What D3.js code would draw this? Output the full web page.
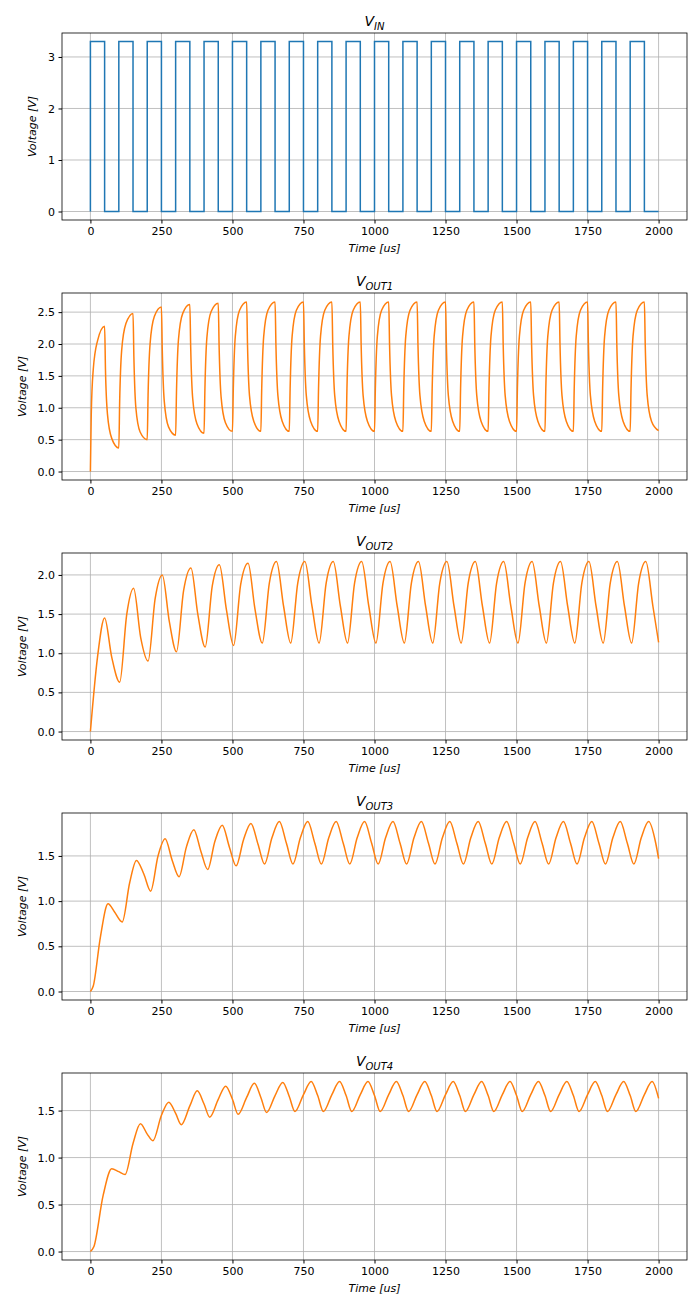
<!DOCTYPE html>
<html><head><meta charset="utf-8">
<script src="https://cdn.jsdelivr.net/npm/d3@7"></script>
<style>body{margin:0;background:#fff}text{font-family:"DejaVu Sans",sans-serif}</style>
</head><body><div id="chart"></div>
<script>
// square wave source: 50us on / 50us off, 3.3 V
var vin = {period: 100, width: 50, amp: 3.3, pulses: 20, tEnd: 2000};

// per-cycle samples: [offset in cycle, value]
// cycles past the listed ones repeat the last (steady) row
var out1 = [
  [[0,0],[3,0.9],[10,1.6],[25,2.05],[50,2.28],[53,1.6],[60,0.9],[75,0.52]],
  [[0,0.37],[3,1.1],[10,1.9],[25,2.32],[50,2.48],[53,1.8],[60,1.0],[75,0.62]],
  [[0,0.5],[3,1.2],[10,2.0],[25,2.43],[50,2.58],[53,1.9],[60,1.1],[75,0.7]],
  [[0,0.57],[3,1.25],[10,2.07],[25,2.48],[50,2.62],[53,1.95],[60,1.15],[75,0.75]],
  [[0,0.6],[3,1.28],[10,2.1],[25,2.51],[50,2.64],[53,1.97],[60,1.17],[75,0.77]],
  [[0,0.63],[3,1.3],[10,2.12],[25,2.53],[50,2.66],[53,1.99],[60,1.19],[75,0.79]]
];
var out2 = [
  [[0,0],[25,0.95],[50,1.45],[75,0.95]],
  [[3,0.63],[28,1.5],[52,1.83],[77,1.2]],
  [[3,0.9],[28,1.7],[53,2.0],[78,1.4]],
  [[3,1.02],[28,1.8],[54,2.09],[78,1.5]],
  [[4,1.08],[29,1.86],[54,2.13],[79,1.55]],
  [[4,1.1],[29,1.88],[55,2.15],[79,1.57]],
  [[5,1.13],[30,1.9],[55,2.17],[80,1.6]]
];
var out3 = [
  [[0,0],[10,0.06],[35,0.6],[62,0.97],[85,0.88]],
  [[12,0.77],[38,1.2],[62,1.45],[88,1.3]],
  [[12,1.11],[38,1.5],[63,1.69],[88,1.45]],
  [[12,1.27],[38,1.6],[64,1.79],[89,1.55]],
  [[13,1.35],[38,1.66],[64,1.84],[89,1.6]],
  [[13,1.39],[39,1.68],[65,1.86],[90,1.63]],
  [[13,1.41],[39,1.7],[65,1.88],[90,1.64]]
];
var out4 = [
  [[0,0],[12,0.05],[45,0.6],[75,0.88],[100,0.85]],
  [[22,0.82],[50,1.15],[76,1.36],[100,1.25]],
  [[20,1.18],[50,1.45],[76,1.59],[100,1.47]],
  [[20,1.35],[50,1.55],[76,1.71],[100,1.57]],
  [[20,1.43],[50,1.62],[76,1.76],[100,1.62]],
  [[20,1.46],[50,1.64],[77,1.79],[100,1.64]],
  [[20,1.48],[50,1.66],[77,1.80],[100,1.65]],
  [[20,1.49],[50,1.67],[77,1.81],[100,1.66]]
];

function unroll(tbl, endVal) {
  var pts = [];
  for (var k = 0; k < 20; k++) {
    var row = tbl[Math.min(k, tbl.length - 1)];
    row.forEach(function (p) {
      if (k * 100 + p[0] < 2000) pts.push([k * 100 + p[0], p[1]]);
    });
  }
  pts.push([2000, endVal]);
  return pts;
}
function square() {
  var pts = [];
  for (var k = 0; k < vin.pulses; k++) {
    var t0 = k * vin.period;
    pts.push([t0, 0], [t0, vin.amp], [t0 + vin.width, vin.amp], [t0 + vin.width, 0]);
  }
  pts.push([vin.tEnd, 0]);
  return pts;
}

var panels = [
  {sub: 'IN', data: square(), color: '#1f77b4', y: [-0.165, 3.465], ticks: [0,1,2,3], fmt: d3.format('d'), curve: d3.curveLinear},
  {sub: 'OUT1', data: unroll(out1, 0.64), color: '#ff7f0e', y: [-0.133, 2.8], ticks: [0,0.5,1,1.5,2,2.5], fmt: d3.format('.1f'), curve: d3.curveMonotoneX},
  {sub: 'OUT2', data: unroll(out2, 1.14), color: '#ff7f0e', y: [-0.108, 2.28], ticks: [0,0.5,1,1.5,2], fmt: d3.format('.1f'), curve: d3.curveMonotoneX},
  {sub: 'OUT3', data: unroll(out3, 1.47), color: '#ff7f0e', y: [-0.094, 1.975], ticks: [0,0.5,1,1.5], fmt: d3.format('.1f'), curve: d3.curveMonotoneX},
  {sub: 'OUT4', data: unroll(out4, 1.63), color: '#ff7f0e', y: [-0.09, 1.9], ticks: [0,0.5,1,1.5], fmt: d3.format('.1f'), curve: d3.curveMonotoneX}
];

var W = 700, H = 1313, left = 62, right = 687, ph = 187;
var svg = d3.select('#chart').append('svg').attr('width', W).attr('height', H);
var x = d3.scaleLinear().domain([-100, 2100]).range([left, right]);

panels.forEach(function (p, i) {
  var top = 33 + i * 260, bot = top + ph;
  var y = d3.scaleLinear().domain(p.y).range([bot, top]);
  var g = svg.append('g');
  var xt = d3.range(0, 2001, 250);
  g.selectAll('.gx').data(xt).enter().append('line')
    .attr('x1', x).attr('x2', x).attr('y1', top).attr('y2', bot)
    .attr('stroke', '#b0b0b0').attr('stroke-width', 0.8);
  g.selectAll('.gy').data(p.ticks).enter().append('line')
    .attr('x1', left).attr('x2', right).attr('y1', y).attr('y2', y)
    .attr('stroke', '#b0b0b0').attr('stroke-width', 0.8);
  g.append('path').datum(p.data)
    .attr('d', d3.line().x(function (d) { return x(d[0]); }).y(function (d) { return y(d[1]); }).curve(p.curve))
    .attr('fill', 'none').attr('stroke', p.color).attr('stroke-width', 1.5);
  g.append('rect').attr('x', left).attr('y', top).attr('width', right - left).attr('height', ph)
    .attr('fill', 'none').attr('stroke', '#000').attr('stroke-width', 0.8);
  var ax = g.append('g').attr('transform', 'translate(0,' + bot + ')')
    .call(d3.axisBottom(x).tickValues(xt).tickSize(3.5).tickPadding(3.5).tickFormat(d3.format('d')));
  var ay = g.append('g').attr('transform', 'translate(' + left + ',0)')
    .call(d3.axisLeft(y).tickValues(p.ticks).tickSize(3.5).tickPadding(3.5).tickFormat(p.fmt));
  [ax, ay].forEach(function (a) {
    a.select('.domain').remove();
    a.selectAll('text').attr('font-size', 11).attr('fill', '#000').style('font-family', 'DejaVu Sans');
  });
  g.append('text').attr('x', (left + right) / 2).attr('y', bot + 32).attr('text-anchor', 'middle')
    .attr('font-size', 11).attr('font-style', 'italic').text('Time [us]');
  var yl = i === 0 ? left - 26 : left - 36;
  g.append('text').attr('transform', 'translate(' + yl + ',' + (top + ph / 2) + ') rotate(-90)')
    .attr('text-anchor', 'middle').attr('font-size', 11).attr('font-style', 'italic').text('Voltage [V]');
  var t = g.append('text').attr('x', (left + right) / 2).attr('y', top - 7).attr('text-anchor', 'middle')
    .attr('font-size', 14).attr('font-style', 'italic');
  t.append('tspan').text('V');
  t.append('tspan').attr('font-size', 10).attr('dy', 4).text(p.sub);
});
</script></body></html>
